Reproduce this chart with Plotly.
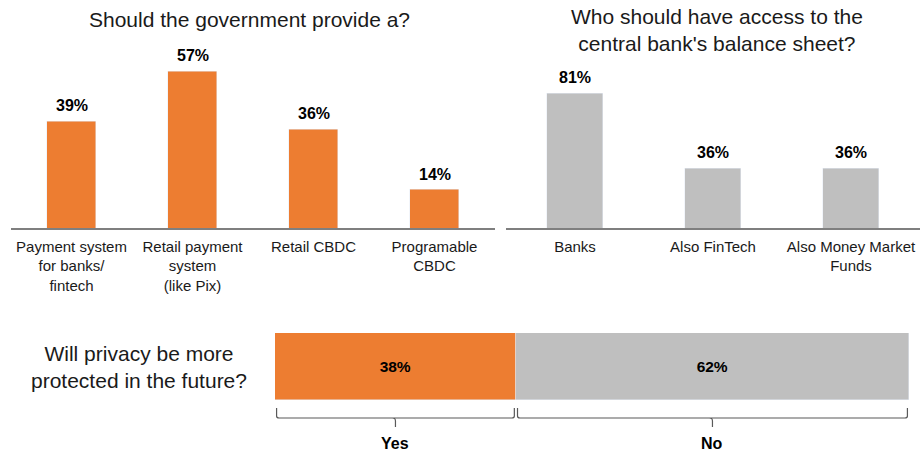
import plotly.graph_objects as go

# ---- data ----
gov_categories = ["Payment system<br>for banks/<br>fintech", "Retail payment<br>system<br>(like Pix)",
                  "Retail CBDC", "Programable<br>CBDC"]
gov_values = [39, 57, 36, 14]

access_categories = ["Banks", "Also FinTech", "Also Money Market<br>Funds"]
access_values = [81, 36, 36]

privacy_labels = ["Yes", "No"]
privacy_values = [38, 62]

title_left = "Should the government provide a?"
title_right = "Who should have access to the<br>central bank's balance sheet?"
question_bottom = "Will privacy be more<br>protected in the future?"

ORANGE = "#ED7D31"
GRAY = "#BFBFBF"
AXIS = "#7F7F7F"
TXT = "#1a1a1a"
FONT = "Liberation Sans, Arial, sans-serif"

W, H = 920, 452
def px(x):
    return x / W
def py(y):
    return (H - y) / H

fig = go.Figure()

# left panel
fig.add_trace(go.Bar(x=gov_categories, y=gov_values, marker_color=ORANGE, width=0.4,
                     xaxis="x", yaxis="y", showlegend=False, hoverinfo="skip"))
# right panel
fig.add_trace(go.Bar(x=access_categories, y=access_values, marker_color=GRAY, width=0.4,
                     xaxis="x2", yaxis="y2", showlegend=False, hoverinfo="skip"))
# bottom stacked bar
for lab, val, col in zip(privacy_labels, privacy_values, [ORANGE, GRAY]):
    fig.add_trace(go.Bar(x=[val], y=["q"], orientation="h", marker_color=col, width=1,
                         text=[f"{val}%"], textposition="inside", insidetextanchor="middle",
                         textfont=dict(family=FONT, size=15.5, color="#000000", weight="bold"),
                         xaxis="x3", yaxis="y3", showlegend=False, hoverinfo="skip"))

annotations = []
for c, v in zip(gov_categories, gov_values):
    annotations.append(dict(x=c, y=v, xref="x", yref="y", text=f"<b>{v}%</b>", showarrow=False,
                            xanchor="center", yanchor="bottom", yshift=5,
                            font=dict(family=FONT, size=16, color="#000")))
for c, v in zip(access_categories, access_values):
    annotations.append(dict(x=c, y=v, xref="x2", yref="y2", text=f"<b>{v}%</b>", showarrow=False,
                            xanchor="center", yanchor="bottom", yshift=5,
                            font=dict(family=FONT, size=16, color="#000")))

annotations.append(dict(x=px(249), y=py(20), xref="paper", yref="paper", text=title_left,
                        xanchor="center", yanchor="middle",
                        showarrow=False, font=dict(family=FONT, size=21, color=TXT)))
annotations.append(dict(x=px(717), y=py(30), xref="paper", yref="paper", text=title_right,
                        xanchor="center", yanchor="middle",
                        showarrow=False, font=dict(family=FONT, size=21, color=TXT)))
annotations.append(dict(x=px(139), y=py(367), xref="paper", yref="paper", text=question_bottom,
                        xanchor="center", yanchor="middle",
                        showarrow=False, align="center", font=dict(family=FONT, size=21, color=TXT)))

shapes = []
start = 0
y_top = py(408)
y_line = py(418)
y_tip = py(427)
for lab, val in zip(privacy_labels, privacy_values):
    x0 = start + 0.25
    x1 = start + val - 0.25
    xm = start + val / 2
    path = (f"M {x0},{y_top} L {x0},{py(416)} Q {x0},{y_line} {x0+0.4},{y_line} "
            f"L {x1-0.4},{y_line} Q {x1},{y_line} {x1},{py(416)} L {x1},{y_top} "
            f"M {xm-0.5},{y_line} Q {xm},{y_line} {xm},{py(421)} L {xm},{y_tip}")
    shapes.append(dict(type="path", path=path, xref="x3", yref="paper",
                       line=dict(color="#595959", width=1.2)))
    annotations.append(dict(x=xm, y=py(443), xref="x3", yref="paper", text=f"<b>{lab}</b>",
                            xanchor="center", yanchor="middle",
                            showarrow=False, font=dict(family=FONT, size=16, color="#000")))
    start += val

fig.update_layout(
    width=W, height=H,
    margin=dict(l=0, r=0, t=0, b=0),
    paper_bgcolor="white", plot_bgcolor="white",
    bargap=0, barmode="stack",
    font=dict(family=FONT, size=15, color=TXT),
    xaxis=dict(domain=[px(11), px(495)], range=[-0.5, 3.5], showline=True, linecolor=AXIS,
               linewidth=1.5, ticks="", showgrid=False, zeroline=False,
               tickfont=dict(family=FONT, size=15, color=TXT), ticklabelstandoff=4),
    yaxis=dict(domain=[py(228), py(49.25)], range=[0, 65], visible=False),
    xaxis2=dict(domain=[px(506), 1], range=[-0.5, 2.5], showline=True, linecolor=AXIS,
                linewidth=1.5, ticks="", showgrid=False, zeroline=False,
                tickfont=dict(family=FONT, size=15, color=TXT), ticklabelstandoff=4),
    yaxis2=dict(domain=[py(228), py(61.3)], range=[0, 100], visible=False),
    xaxis3=dict(domain=[px(275), px(909)], range=[0, 100], visible=False),
    yaxis3=dict(domain=[py(400), py(333)], range=[-0.5, 0.5], visible=False),
    annotations=annotations,
    shapes=shapes,
)

fig.write_html("out.html", config={"displayModeBar": False},
               post_script="document.body.style.margin='0';document.body.style.overflow='hidden';")
